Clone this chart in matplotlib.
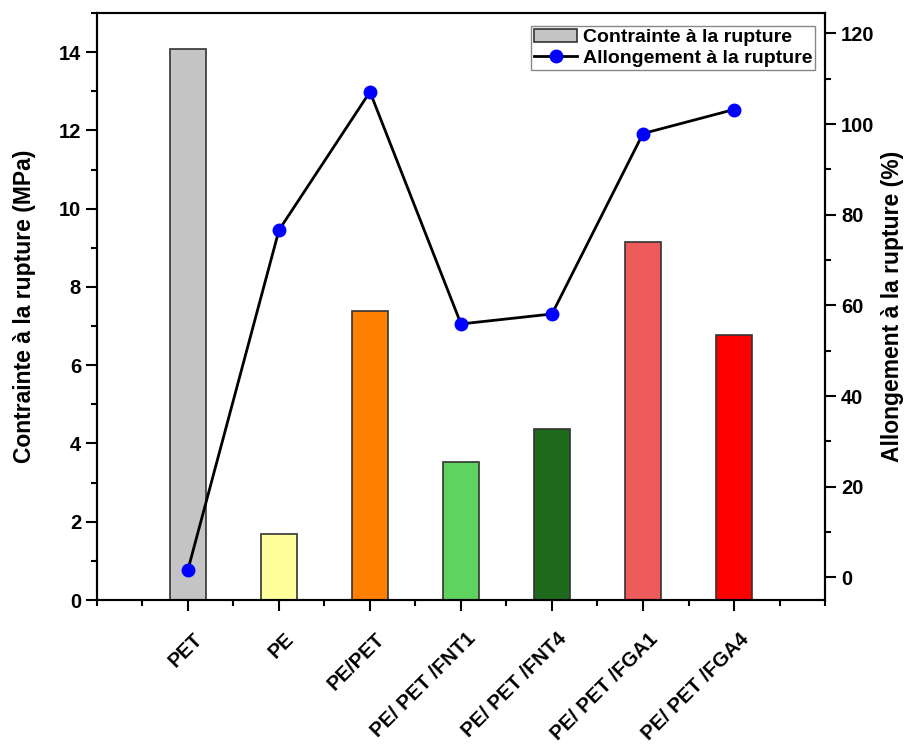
import matplotlib.pyplot as plt
import matplotlib.transforms as mtransforms
from matplotlib.ticker import MultipleLocator

plt.rcParams['font.family'] = ['Liberation Sans', 'DejaVu Sans']
plt.rcParams['font.weight'] = 'bold'

# samples and measured values
samples = ['PET', 'PE', 'PE/PET', 'PE/ PET /FNT1', 'PE/ PET /FNT4',
           'PE/ PET /FGA1', 'PE/ PET /FGA4']
contrainte = [14.07, 1.68, 7.39, 3.52, 4.38, 9.15, 6.77]
allongement = [1.7, 76.6, 107.1, 55.9, 58.1, 97.9, 103.2]
bar_colors = ['#C4C4C4', '#FFFF9C', '#FF8000', '#5FD35F', '#1E6B1E',
              '#EE5B5B', '#FF0000']

fig = plt.figure(figsize=(9.08, 7.45), dpi=100)
ax = fig.add_axes([0.1068, 0.1946, 0.8018, 0.7880])
x = list(range(1, len(samples) + 1))

bars = ax.bar(x, contrainte, width=0.4, color=bar_colors,
              edgecolor='#333333', linewidth=1.2, zorder=2)
ax.set_xlim(0, 8)
ax.set_ylim(0, 15)
ax.set_ylabel('Contrainte à la rupture (MPa)', fontsize=16.5,
              fontweight='bold', labelpad=16)
ax.yaxis.set_major_locator(MultipleLocator(2))
ax.yaxis.set_minor_locator(MultipleLocator(1))
ax.set_xticks(x)
ax.set_xticks([0, 0.5, 1.5, 2.5, 3.5, 4.5, 5.5, 6.5, 7.5, 8], minor=True)
ax.set_xticklabels(samples, rotation=45, ha='right', va='top',
                   rotation_mode='anchor', fontweight='bold', fontsize=14.5)
ax.tick_params(axis='both', which='major', direction='out', length=8,
               width=1.5, labelsize=14.5)
ax.tick_params(axis='x', which='major', pad=13)
ax.tick_params(axis='both', which='minor', direction='out', length=4,
               width=1.5)
# shift the slanted labels a little to the right of their ticks
shift = mtransforms.ScaledTranslation(0.05, 0, fig.dpi_scale_trans)
for lab in ax.get_xticklabels():
    lab.set_transform(lab.get_transform() + shift)
for lab in ax.get_yticklabels():
    lab.set_fontweight('bold')
for sp in ax.spines.values():
    sp.set_linewidth(1.5)

ax2 = ax.twinx()
line, = ax2.plot(x, allongement, '-o', color='black', linewidth=2,
                 markerfacecolor='#0000FF', markeredgecolor='#0000FF',
                 markersize=9, zorder=3)
ax2.set_ylim(-5, 124.5)
ax2.yaxis.set_major_locator(MultipleLocator(20))
ax2.yaxis.set_minor_locator(MultipleLocator(10))
ax2.tick_params(axis='y', which='major', direction='out', length=8,
                width=1.5, labelsize=14.5)
ax2.tick_params(axis='y', which='minor', direction='out', length=4,
                width=1.5)
for lab in ax2.get_yticklabels():
    lab.set_fontweight('bold')
ax2.set_ylabel('Allongement à la rupture (%)', fontsize=16.5,
               fontweight='bold', labelpad=5)
for sp in ax2.spines.values():
    sp.set_linewidth(1.5)

leg_bar = plt.Rectangle((0, 0), 1, 1, facecolor='#C4C4C4',
                        edgecolor='#333333', linewidth=1.2)
leg = ax2.legend([leg_bar, line],
                 ['Contrainte à la rupture', 'Allongement à la rupture'],
                 loc='upper right', bbox_to_anchor=(0.992, 0.985),
                 fancybox=False, framealpha=1,
                 edgecolor='#888888', borderpad=0.15, labelspacing=0.15,
                 handlelength=2.2, handletextpad=0.3, borderaxespad=0.2,
                 prop={'weight': 'bold', 'size': 14})

fig.savefig('out.png', dpi=100)
